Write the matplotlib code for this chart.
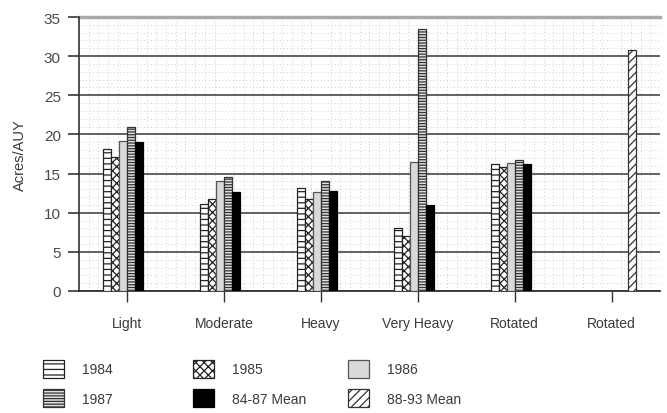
import matplotlib
matplotlib.use("Agg")
import matplotlib.pyplot as plt
from matplotlib.patches import Patch
from matplotlib.ticker import MultipleLocator
import numpy as np

# valeurs
categories = ["Light", "Moderate", "Heavy", "Very Heavy", "Rotated", "Rotated"]
series_names = ["1984", "1985", "1986", "1987", "84-87 Mean", "88-93 Mean"]
v1984 = [18.1, 11.1, 13.1, 8.0, 16.2, None]
v1985 = [17.1, 11.7, 11.8, 7.0, 15.9, None]
v1986 = [19.2, 14.0, 12.7, 16.5, 16.3, None]
v1987 = [21.0, 14.5, 14.1, 33.5, 16.7, None]
vmean = [19.0, 12.6, 12.8, 11.0, 16.2, None]
v8893 = [None, None, None, None, None, 30.8]
yticks = [0, 5, 10, 15, 20, 25, 30, 35]

plt.rcParams['font.family'] = ['Liberation Sans', 'DejaVu Sans']
plt.rcParams['hatch.linewidth'] = 0.9
txt = "#3a3a3a"

styles = [
    dict(facecolor="white", edgecolor="#222222", hatch="---"),
    dict(facecolor="white", edgecolor="#222222", hatch="xxxx"),
    dict(facecolor="#d9d9d9", edgecolor="#555555", hatch=None),
    dict(facecolor="#e0e0e0", edgecolor="#333333", hatch="------"),
    dict(facecolor="black", edgecolor="black", hatch=None),
    dict(facecolor="white", edgecolor="#333333", hatch="////"),
]

fig = plt.figure(figsize=(6.67, 4.14), dpi=100)
ax = fig.add_axes([0.1184, 0.2947, 0.8711, 0.6618])

x = np.arange(len(categories))
w = 0.0825
data = [v1984, v1985, v1986, v1987, vmean, v8893]
for i, (vals, st) in enumerate(zip(data, styles)):
    xs = [x[j] - 3 * w + w * (i + 0.5) for j, v in enumerate(vals) if v is not None]
    hs = [v for v in vals if v is not None]
    ax.bar(xs, hs, width=w, linewidth=0.9, zorder=3, **st)

ax.set_xlim(-0.5, 5.5)
ax.set_ylim(0, 35)
ax.set_yticks(yticks)
ax.yaxis.set_minor_locator(MultipleLocator(1))
ax.xaxis.set_minor_locator(MultipleLocator(1 / 10))
ax.set_xticks(x)
ax.set_xticklabels(categories, fontsize=10, color=txt)
ax.tick_params(axis='y', which='major', length=8, width=1.3, color="#444444",
               labelsize=11, labelcolor="#4a4a4a", pad=5)
ax.tick_params(axis='x', which='major', length=8, width=1.0, color="#333333", pad=10)
ax.tick_params(which='minor', length=0)

ax.grid(axis='y', which='major', color="#555555", linewidth=1.3, zorder=1)
ax.grid(axis='both', which='minor', color="#cfcfcf", linewidth=0.7,
        linestyle=(0, (1, 2.5)), zorder=0)
ax.set_axisbelow(True)
for s in ["top", "right"]:
    ax.spines[s].set_visible(False)
ax.spines["left"].set_color("#333333")
ax.spines["left"].set_linewidth(1.2)
ax.spines["bottom"].set_color("#333333")
ax.spines["bottom"].set_linewidth(1.3)
ax.axhline(35, color="#aaaaaa", linewidth=2.5, zorder=2, clip_on=False)

ax.set_ylabel("Acres/AUY", fontsize=10.5, color=txt, labelpad=12)

# légende en 3 colonnes de 2 lignes
handles = [Patch(linewidth=0.9, **st) for st in styles]
cols_x = [0.056, 0.281, 0.513]
for c in range(3):
    hh = [handles[c], handles[c + 3]]
    ll = [series_names[c], series_names[c + 3]]
    leg = fig.legend(hh, ll, loc="upper left", bbox_to_anchor=(cols_x[c], 0.142),
                     frameon=False, fontsize=10, handlelength=1.5, handleheight=1.6,
                     handletextpad=1.3, labelspacing=0.85, borderaxespad=0)
    for t in leg.get_texts():
        t.set_color(txt)

fig.savefig("out.png", dpi=100)
